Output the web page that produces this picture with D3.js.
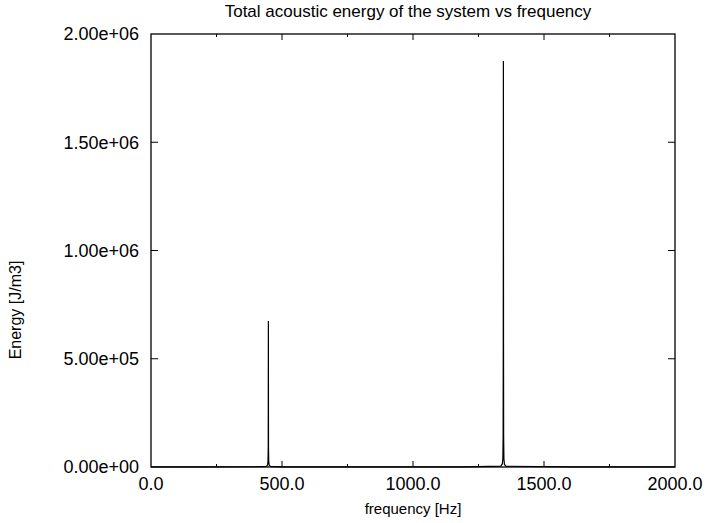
<!DOCTYPE html>
<html>
<head>
<meta charset="utf-8">
<script src="https://cdn.jsdelivr.net/npm/d3@7"></script>
<style>
  body { margin: 0; background: #fff; }
  text { font-family: "Liberation Sans", Arial, sans-serif; fill: #000; }
</style>
</head>
<body>
<svg id="chart" width="706" height="523"></svg>
<script>
// data: frequency sweep with two resonance spikes
var freq = [0, 200, 400, 440, 445, 446.5, 447.5, 448, 448.5, 449.5, 451, 456, 500, 800, 1200, 1335, 1341, 1343, 1344, 1344.5, 1345, 1345.5, 1346, 1347, 1349, 1355, 1600, 2000];
var energy = [300, 500, 1200, 3000, 9000, 25000, 90000, 674000, 85000, 24000, 8000, 2500, 900, 500, 1000, 4000, 14000, 40000, 150000, 600000, 1875000, 580000, 140000, 38000, 12000, 3500, 700, 200];

var xTicks = [0, 500, 1000, 1500, 2000];
var xMinor = [250, 750, 1250, 1750];
var yTicks = [0, 500000, 1000000, 1500000, 2000000];

var title = "Total acoustic energy of the system vs frequency";
var xLabel = "frequency [Hz]";
var yLabel = "Energy [J/m3]";

var svg = d3.select("#chart"),
    margin = {top: 34, right: 31, bottom: 56, left: 151},
    width = +svg.attr("width") - margin.left - margin.right,
    height = +svg.attr("height") - margin.top - margin.bottom;

var g = svg.append("g")
    .attr("transform", "translate(" + margin.left + "," + margin.top + ")");

var x = d3.scaleLinear().domain([0, 2000]).range([0, width]);
var y = d3.scaleLinear().domain([0, 2000000]).range([height, 0]);

var fs = 18;

// tick labels
g.selectAll(".xl").data(xTicks).join("text")
    .attr("x", d => x(d))
    .attr("y", height + 23)
    .attr("text-anchor", "middle")
    .style("font-size", fs + "px")
    .text(d => d.toFixed(1));

g.selectAll(".yl").data(yTicks).join("text")
    .attr("x", -12)
    .attr("y", d => y(d))
    .attr("dy", "0.36em")
    .attr("text-anchor", "end")
    .style("font-size", fs + "px")
    .text(d => d.toExponential(2).replace(/e([+-])(\d)$/, "e$10$2"));

// ticks, mirrored inside on all four sides (gnuplot style)
var tk = g.append("g").attr("stroke", "#000").attr("stroke-width", 1);
xTicks.slice(1, -1).forEach(d => {
  tk.append("line").attr("x1", x(d)).attr("x2", x(d)).attr("y1", height).attr("y2", height - 6);
  tk.append("line").attr("x1", x(d)).attr("x2", x(d)).attr("y1", 0).attr("y2", 6);
});
xMinor.forEach(d => {
  tk.append("line").attr("x1", x(d)).attr("x2", x(d)).attr("y1", height).attr("y2", height - 3);
  tk.append("line").attr("x1", x(d)).attr("x2", x(d)).attr("y1", 0).attr("y2", 3);
});
yTicks.slice(1, -1).forEach(d => {
  tk.append("line").attr("x1", 0).attr("x2", 7).attr("y1", y(d)).attr("y2", y(d));
  tk.append("line").attr("x1", width).attr("x2", width - 7).attr("y1", y(d)).attr("y2", y(d));
});

// data line
var line = d3.line().x((d, i) => x(freq[i])).y(d => y(d));
g.append("path")
    .datum(energy)
    .attr("fill", "none")
    .attr("stroke", "#000")
    .attr("stroke-width", 1.2)
    .attr("d", line);

// frame
g.append("rect")
    .attr("width", width).attr("height", height)
    .attr("fill", "none").attr("stroke", "#000").attr("stroke-width", 1.3);

svg.append("text")
    .attr("x", 408).attr("y", 17)
    .attr("text-anchor", "middle")
    .style("font-size", "17px")
    .text(title);

svg.append("text")
    .attr("x", margin.left + width / 2).attr("y", 514)
    .attr("text-anchor", "middle")
    .style("font-size", "15px")
    .text(xLabel);

svg.append("text")
    .attr("transform", "translate(21,310) rotate(-90)")
    .attr("text-anchor", "middle")
    .style("font-size", "16px")
    .text(yLabel);
</script>
</body>
</html>
